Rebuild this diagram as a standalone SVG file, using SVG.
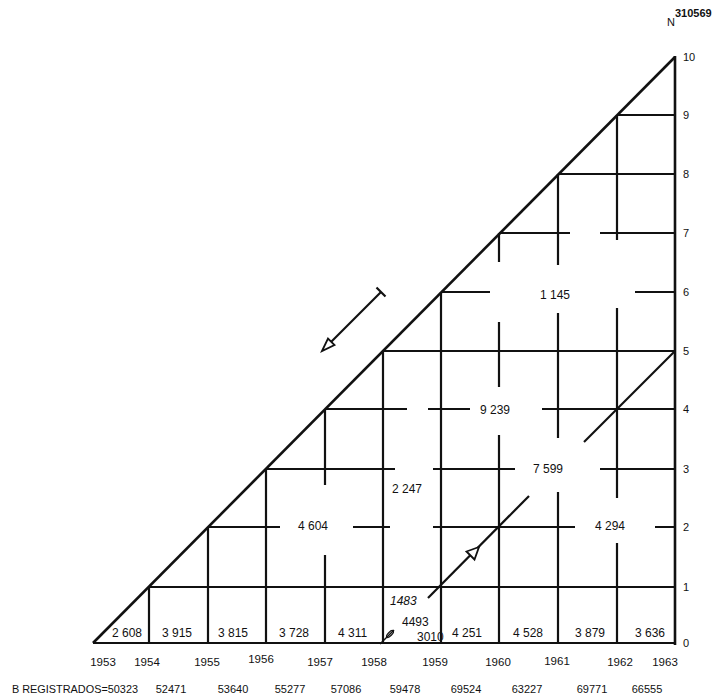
<svg xmlns="http://www.w3.org/2000/svg" width="720" height="700" viewBox="0 0 720 700">
<style>
.g{stroke:#111;stroke-width:2.2;fill:none;stroke-linecap:butt}
.d{stroke:#111;stroke-width:2.6;fill:none}
.t{font-family:"Liberation Sans",Arial,sans-serif;font-size:12px;fill:#111}
.y{font-family:"Liberation Sans",Arial,sans-serif;font-size:11.5px;fill:#111;text-anchor:middle}
.r{font-family:"Liberation Sans",Arial,sans-serif;font-size:11px;fill:#111}
.b{font-family:"Liberation Sans",Arial,sans-serif;font-size:11px;fill:#111;text-anchor:middle}
</style>
<rect width="720" height="700" fill="#fff"/>
<g id="grid">
<path class="g" d="M149,587V643 M208,527V643 M266,469V643 M325,409V485 M325,555V643 M383,351V643 M441,292V643 M499,233V262 M499,322V387 M499,435V643 M558,174V265 M558,313V438 M558,492V643 M617,115V240 M617,308V498 M617,543V643"/>
<path class="g" d="M93,643H675 M149,587H675 M208,527H280 M353,527H390 M433,527H575 M655,527H675 M266,469H395 M433,469H515 M600,469H675 M325,409H407 M428,409H470 M542,409H675 M383,351H675 M441,292H490 M635,292H675 M499,233H570 M600,233H675 M558,174H675 M617,115H675"/>
<path class="d" d="M675,56V645"/>
<path class="d" d="M93,643L675,57"/>
</g>
<g id="connectors">
<path class="g" d="M584,442L675,351"/>
<path class="g" d="M428,598L529,496"/>
<path d="M479,547L466.5,551.5L474.5,559.5Z" fill="#fff" stroke="#111" stroke-width="1.8" stroke-linejoin="miter"/>
<path class="g" d="M381,292L329,344"/>
<path class="g" d="M376.5,287.5L385.5,296.5"/>
<path d="M322,351L328,338.5L334.5,345Z" fill="#fff" stroke="#111" stroke-width="1.8"/>
<path d="M380,644L394,630" stroke="#111" stroke-width="1.5" fill="none"/>
<ellipse cx="390" cy="634" rx="4.5" ry="1.8" transform="rotate(-45 390 634)" fill="none" stroke="#111" stroke-width="1.2"/>
</g>
<g id="cell-labels">
<text class="t" x="112" y="637">2 608</text>
<text class="t" x="162" y="637">3 915</text>
<text class="t" x="218" y="637">3 815</text>
<text class="t" x="279" y="637">3 728</text>
<text class="t" x="338" y="637">4 311</text>
<text class="t" x="452" y="637">4 251</text>
<text class="t" x="513" y="637">4 528</text>
<text class="t" x="575" y="637">3 879</text>
<text class="t" x="635" y="637">3 636</text>
<text class="t" x="390" y="605" font-style="italic">1483</text>
<text class="t" x="402" y="626">4493</text>
<text class="t" x="417" y="641">3010</text>
<text class="t" x="298" y="530">4 604</text>
<text class="t" x="392" y="493">2 247</text>
<text class="t" x="480" y="414">9 239</text>
<text class="t" x="533" y="473">7 599</text>
<text class="t" x="595" y="530">4 294</text>
<text class="t" x="540" y="299">1 145</text>
</g>
<g id="axis-right">
<text class="r" x="683" y="647">0</text>
<text class="r" x="683" y="591">1</text>
<text class="r" x="683" y="531">2</text>
<text class="r" x="683" y="473">3</text>
<text class="r" x="683" y="413">4</text>
<text class="r" x="683" y="355">5</text>
<text class="r" x="683" y="296">6</text>
<text class="r" x="683" y="237">7</text>
<text class="r" x="683" y="178">8</text>
<text class="r" x="683" y="119">9</text>
<text class="r" x="683" y="61">10</text>
<text class="r" x="667" y="26" font-size="9">N</text>
<text class="r" x="675" y="17" font-weight="bold">310569</text>
</g>
<g id="axis-years">
<text class="y" x="103" y="666">1953</text>
<text class="y" x="147" y="666">1954</text>
<text class="y" x="207" y="666">1955</text>
<text class="y" x="261" y="663">1956</text>
<text class="y" x="320" y="666">1957</text>
<text class="y" x="374" y="666">1958</text>
<text class="y" x="435" y="666">1959</text>
<text class="y" x="498" y="666">1960</text>
<text class="y" x="557" y="665">1961</text>
<text class="y" x="620" y="666">1962</text>
<text class="y" x="665" y="666">1963</text>
</g>
<g id="registrados">
<text class="r" x="12" y="693" textLength="126" lengthAdjust="spacingAndGlyphs">B REGISTRADOS=50323</text>
<text class="b" x="171" y="693">52471</text>
<text class="b" x="233" y="693">53640</text>
<text class="b" x="290" y="693">55277</text>
<text class="b" x="346" y="693">57086</text>
<text class="b" x="405" y="693">59478</text>
<text class="b" x="466" y="693">69524</text>
<text class="b" x="527" y="693">63227</text>
<text class="b" x="592" y="693">69771</text>
<text class="b" x="647" y="693">66555</text>
</g>
</svg>
